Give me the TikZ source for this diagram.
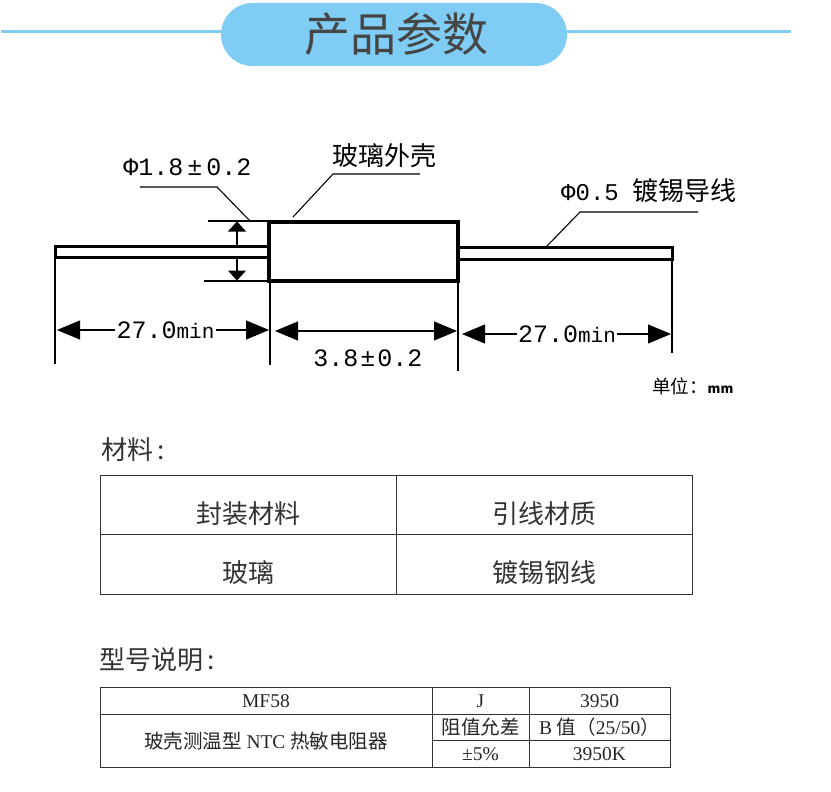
\documentclass[tikz,border=0pt]{standalone}
\usepackage{fontspec}
\setmainfont{Liberation Serif}
\newfontfamily\cjk{Noto Sans CJK SC}
\newfontfamily\dimfont{Liberation Mono}
\usepackage{xcolor}
\usetikzlibrary{positioning}
\usetikzlibrary{arrows.meta}
\usetikzlibrary{shapes.misc}

\definecolor{skyband}{HTML}{7FCDF5}
\definecolor{titlegray}{HTML}{454545}
\definecolor{rulegray}{HTML}{333333}

\newcommand{\dimsize}{\fontsize{25}{27}\selectfont\dimfont}
\newcommand{\minsize}{\fontsize{21}{23}\selectfont}

\tikzset{
    dimtext/.style={inner sep=1pt,font=\dimsize},
    cntext/.style={inner sep=0pt,font=\fontsize{26}{28}\selectfont\cjk},
    heading/.style={inner sep=0pt,anchor=west,font=\fontsize{26}{28}\selectfont\cjk,text=black!80},
    thin line/.style={line width=1.1pt},
    part/.style={line width=3pt,draw=black},
    dimarrow/.style={thin line,{Triangle[length=23pt,width=19pt]}-{Triangle[length=23pt,width=19pt]}},
    endarrow/.style={thin line,-{Triangle[length=23pt,width=19pt]}},
    phiarrow/.style={thin line,-{Triangle[length=10pt,width=18pt]}},
    cell/.style={draw=rulegray,line width=1pt,inner sep=0pt,text height=40pt,text depth=3pt,font=\fontsize{26}{28}\selectfont\cjk,text=black!80},
    tcell/.style={draw=rulegray,line width=1pt,inner sep=0pt,font=\fontsize{19.5}{21}\selectfont,text=black!85},
}

\begin{document}
\begin{tikzpicture}[x=1pt,y=-1pt]
    \useasboundingbox (0,0) rectangle (831,792);

    % title band
    \coordinate (bandl) at (1,32);
    \coordinate (bandr) at (791,32);
    \node[rounded rectangle,fill=skyband,minimum width=346pt,minimum height=63pt,inner sep=0pt,text=titlegray,font=\fontsize{46}{48}\selectfont\cjk] at (394,34.5) (band) {\raisebox{-2pt}{\hspace{4pt}产品参数}};
    \draw[skyband,line width=3pt] (bandl) -- (band.west |- bandl);
    \draw[skyband,line width=3pt] (band.east |- bandr) -- (bandr);

    % resistor
    \draw[part] (55,246) rectangle (269,257);
    \draw[part] (458,247) rectangle (672,259);
    \node[draw,line width=4.5pt,fill=white,minimum width=189pt,minimum height=59pt,inner sep=0pt,outer sep=0pt] at (363.5,251.5) (body) {};

    % extension lines
    \coordinate (exttopl) at (208,221);
    \coordinate (exttopr) at (268,221);
    \coordinate (extbotl) at (204,281);
    \coordinate (extbotr) at (268,281);
    \draw[thin line] (exttopl) -- (exttopr);
    \draw[thin line] (extbotl) -- (extbotr);
    \coordinate (extla) at (55,257);
    \coordinate (extlb) at (55,364);
    \coordinate (extma) at (270,282);
    \coordinate (extmb) at (270,365);
    \coordinate (extna) at (458,282);
    \coordinate (extnb) at (458,371);
    \coordinate (extra) at (672,259);
    \coordinate (extrb) at (672,353);
    \draw[thin line] (extla) -- (extlb);
    \draw[thin line] (extma) -- (extmb);
    \draw[thin line] (extna) -- (extnb);
    \draw[thin line] (extra) -- (extrb);

    % diameter arrows
    \coordinate (phia) at (237,246);
    \coordinate (phib) at (237,221.5);
    \coordinate (phic) at (237,257);
    \coordinate (phid) at (237,280.5);
    \draw[phiarrow] (phia) -- (phib);
    \draw[phiarrow] (phic) -- (phid);

    % length dimensions
    \node[dimtext] at (165.5,330) (lenleft) {27.0{\minsize min}};
    \coordinate (lenlefta) at (57,330);
    \coordinate (lenleftb) at (269,330);
    \draw[endarrow] (lenleft.west) -- (lenlefta);
    \draw[endarrow] (lenleft.east) -- (lenleftb);

    \coordinate (lenbodya) at (275,331);
    \coordinate (lenbodyb) at (457,331);
    \draw[dimarrow] (lenbodya) -- (lenbodyb);
    \node[dimtext] at (368,358) (lenbody) {3.8\hspace{2pt}±\hspace{2pt}0.2};

    \node[dimtext] at (567,334) (lenright) {27.0{\minsize min}};
    \coordinate (lenrighta) at (462,334);
    \coordinate (lenrightb) at (671,334);
    \draw[endarrow] (lenright.west) -- (lenrighta);
    \draw[endarrow] (lenright.east) -- (lenrightb);

    % leaders
    \node[dimtext] at (187.5,167) (phibig) {Φ1.8\hspace{4pt}±\hspace{4pt}0.2};
    \coordinate (leadaa) at (140,187);
    \coordinate (leadab) at (217,187);
    \coordinate (leadac) at (250,221);
    \draw[thin line] (leadaa) -- (leadab) -- (leadac);

    \node[cntext,anchor=west] at (332,156) (glass) {玻璃外壳};
    \coordinate (leadba) at (293,217);
    \coordinate (leadbb) at (333,174);
    \coordinate (leadbc) at (420,174);
    \draw[thin line] (leadba) -- (leadbb) -- (leadbc);

    \node[inner sep=0pt,anchor=west,font=\dimsize] at (561,191) (wire) {\fontsize{24}{26}\selectfont Φ0.5\hspace{14pt}{\fontsize{26}{28}\selectfont\cjk 镀锡导线}};
    \coordinate (leadca) at (547,246);
    \coordinate (leadcb) at (580,212);
    \coordinate (leadcc) at (698,212);
    \draw[thin line] (leadca) -- (leadcb) -- (leadcc);

    \node[inner sep=0pt,anchor=west,font=\fontsize{18.5}{20}\selectfont\cjk] at (652,386) (unit) {单位：{\fontsize{13}{15}\selectfont\bfseries mm}};

    % material table
    \node[heading] at (101,450) (material) {材料\hspace{4pt}:};
    \node[cell,minimum width=296pt,minimum height=59pt] at (248.5,505) (matha) {封装材料};
    \node[cell,minimum width=296pt,minimum height=59pt] at (544,505) (mathb) {引线材质};
    \node[cell,minimum width=296pt,minimum height=60pt] at (248.5,564) (matva) {玻璃};
    \node[cell,minimum width=296pt,minimum height=60pt] at (544,564) (matvb) {镀锡钢线};

    % model table
    \node[heading] at (99,660) (model) {型号说明\hspace{4pt}:};
    \node[tcell,minimum width=332pt,minimum height=27pt] at (266,701) (mf) {MF58};
    \node[tcell,minimum width=97pt,minimum height=27pt] at (480.5,701) (jcode) {J};
    \node[tcell,minimum width=141pt,minimum height=27pt] at (599.5,701) (bcode) {3950};
    \node[tcell,minimum width=332pt,minimum height=53pt] at (266,741) (mftext) {{\cjk 玻壳测温型} NTC {\cjk 热敏电阻器}};
    \node[tcell,minimum width=97pt,minimum height=26pt] at (480.5,727.5) (tolname) {\cjk 阻值允差};
    \node[tcell,minimum width=141pt,minimum height=26pt] at (599.5,727.5) (bname) {B {\cjk 值（}25/50{\cjk ）}};
    \node[tcell,minimum width=97pt,minimum height=27pt] at (480.5,754) (tolval) {±5\%};
    \node[tcell,minimum width=141pt,minimum height=27pt] at (599.5,754) (bval) {3950K};
\end{tikzpicture}
\end{document}
